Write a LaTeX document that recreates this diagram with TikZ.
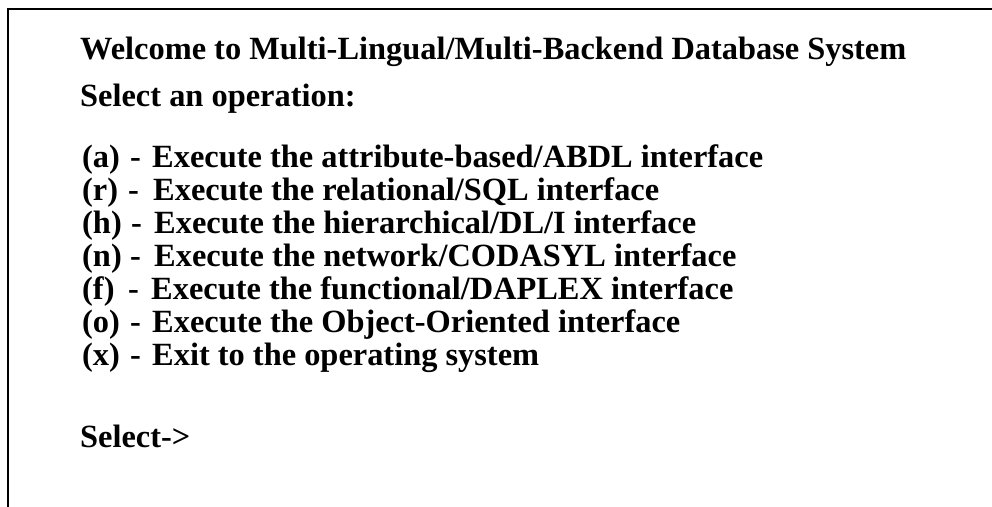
\documentclass[tikz,border=0pt]{standalone}
\usepackage{fontspec}
\setmainfont{Liberation Serif}
\begin{document}
\begin{tikzpicture}[x=1pt,y=-1pt]
  \tikzset{
    txt/.style={anchor=base west, inner sep=0pt, font=\fontsize{32.4}{36}\selectfont\bfseries},
    frameline/.style={line width=2.4pt, line cap=rect}
  }
  \useasboundingbox (0,0) rectangle (992,506);
  % open frame: top rule and left rule
  \coordinate (tl) at (8,9);
  \coordinate (tr) at (992,9);
  \coordinate (bl) at (8,506);
  \draw[frameline] (bl) -- (tl) -- (tr);
  % heading
  \node[txt] (title) at (80,59) {Welcome to Multi-Lingual/Multi-Backend Database System};
  \node[txt] (prompt) at (80,106) {Select an operation:};
  % menu entries
  \foreach \k/\lab/\dx/\tx/\desc in {
      0/(a)/0/0/{Execute the attribute-based/ABDL interface},
      1/(r)/-2/1/{Execute the relational/SQL interface},
      2/(h)/1/2/{Execute the hierarchical/DL/I interface},
      3/(n)/0/2/{Execute the network/CODASYL interface},
      4/(f)/-2/-1/{Execute the functional/DAPLEX interface},
      5/(o)/0/0/{Execute the Object-Oriented interface},
      6/(x)/0/0/{Exit to the operating system}}{
    \node[txt] (key\k) at (82,{167+33*\k}) {\lab};
    \node[txt] (dash\k) at ({130+\dx},{167+33*\k}) {-};
    \node[txt] (item\k) at ({152+\tx},{167+33*\k}) {\desc};
  }
  \node[txt] (sel) at (80,447) {Select->};
\end{tikzpicture}
\end{document}
